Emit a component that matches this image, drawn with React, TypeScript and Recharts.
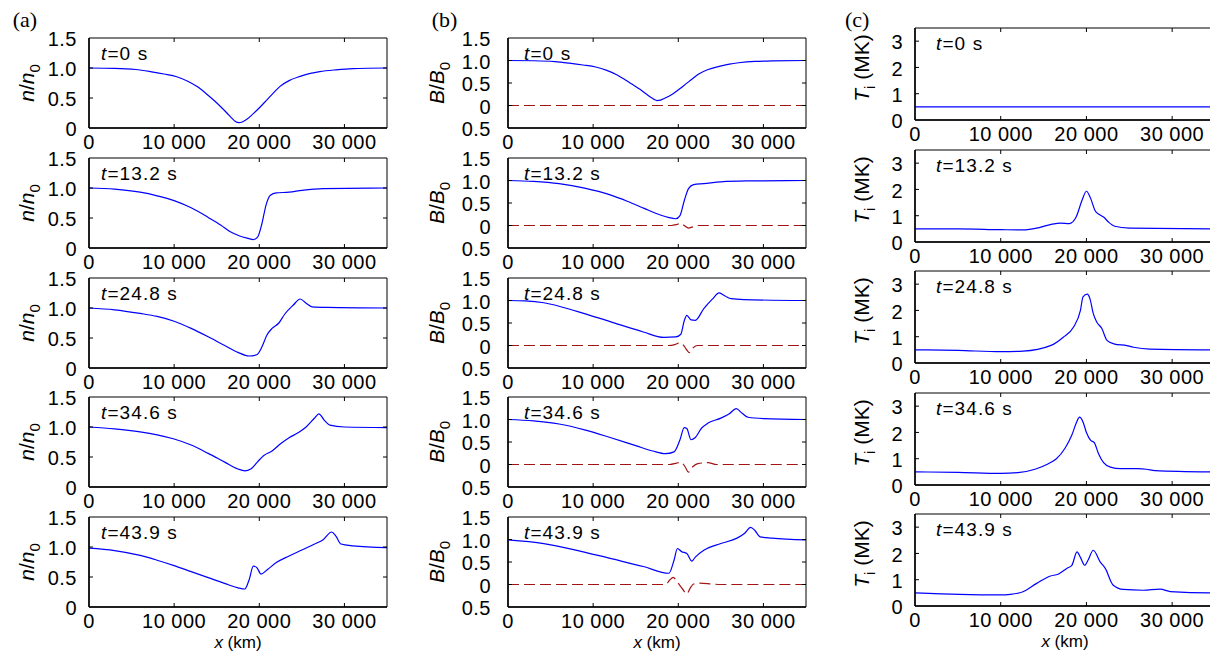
import React from 'react';
import { LineChart, Line, XAxis, YAxis, ReferenceArea } from 'recharts';

type Pt = [number, number];

const FONT = '"Liberation Sans", Arial, Helvetica, sans-serif';
const SERIF = '"Liberation Serif", "Times New Roman", serif';

const xTicks = [0, 10000, 20000, 30000];
const nTicks = [0, 0.5, 1, 1.5];
const bTicks = [-0.5, 0, 0.5, 1, 1.5];
const tiTicks = [0, 1, 2, 3];
const times = ['0', '13.2', '24.8', '34.6', '43.9'];

// (a) density n/n0, [x km, value]
const n0: Pt[] = [[0, 1.0], [3000, 0.995], [5500, 0.975], [7200, 0.94], [8800, 0.9], [10300, 0.855], [11600, 0.78], [12700, 0.69], [13700, 0.58], [14600, 0.47], [15500, 0.35], [16200, 0.25], [16800, 0.16], [17200, 0.11], [17600, 0.09], [18000, 0.1], [18500, 0.14], [19300, 0.24], [20100, 0.35], [20900, 0.47], [21700, 0.59], [22400, 0.69], [23500, 0.79], [24800, 0.86], [26000, 0.91], [27100, 0.94], [29000, 0.97], [31000, 0.99], [35000, 1.0]];
const n1: Pt[] = [[0, 1.0], [3000, 0.98], [6000, 0.93], [8000, 0.87], [10000, 0.79], [12000, 0.67], [14000, 0.51], [15500, 0.38], [16600, 0.27], [17700, 0.2], [18700, 0.16], [19300, 0.14], [19800, 0.18], [20300, 0.4], [20800, 0.72], [21300, 0.88], [22000, 0.92], [23500, 0.93], [25000, 0.96], [27500, 0.99], [35000, 1.0]];
const n2: Pt[] = [[0, 1.0], [3000, 0.97], [6000, 0.91], [8000, 0.86], [10000, 0.78], [12000, 0.66], [14000, 0.52], [16000, 0.37], [17500, 0.26], [18800, 0.2], [19700, 0.22], [20300, 0.35], [20900, 0.55], [21500, 0.66], [22300, 0.75], [23000, 0.9], [24000, 1.05], [24800, 1.15], [25500, 1.08], [26200, 1.02], [28000, 1.01], [35000, 1.0]];
const n3: Pt[] = [[0, 1.0], [3000, 0.97], [6000, 0.92], [8000, 0.87], [10000, 0.8], [12000, 0.7], [14000, 0.56], [16000, 0.41], [17500, 0.3], [18300, 0.27], [19000, 0.3], [19800, 0.42], [20500, 0.52], [21500, 0.6], [22500, 0.72], [23500, 0.82], [24500, 0.9], [25500, 1.0], [26500, 1.15], [27000, 1.22], [27600, 1.12], [28300, 1.03], [30000, 1.0], [35000, 0.99]];
const n4: Pt[] = [[0, 0.98], [3000, 0.94], [6000, 0.86], [8000, 0.78], [10000, 0.69], [12000, 0.59], [14000, 0.49], [16000, 0.39], [17500, 0.32], [18300, 0.3], [18800, 0.45], [19300, 0.68], [19700, 0.66], [20200, 0.55], [21000, 0.63], [22000, 0.74], [23500, 0.85], [25000, 0.95], [26500, 1.05], [27500, 1.12], [28500, 1.25], [29000, 1.18], [29600, 1.05], [31000, 1.02], [35000, 0.99]];

// (b) B/B0 (solid) and the transverse component (dashed)
const b0: Pt[] = [[0, 1.0], [3000, 0.995], [5500, 0.975], [7200, 0.94], [8800, 0.9], [10300, 0.855], [11600, 0.78], [12700, 0.69], [13700, 0.58], [14600, 0.47], [15500, 0.36], [16200, 0.26], [16800, 0.18], [17200, 0.13], [17500, 0.11], [17900, 0.12], [18400, 0.16], [19300, 0.25], [20100, 0.36], [20900, 0.48], [21700, 0.6], [22400, 0.7], [23500, 0.8], [24800, 0.87], [26000, 0.92], [27100, 0.95], [29000, 0.98], [31000, 0.99], [35000, 1.0]];
const b1: Pt[] = [[0, 1.0], [3000, 0.98], [6000, 0.93], [9000, 0.83], [12000, 0.68], [14000, 0.54], [16000, 0.38], [17500, 0.26], [18800, 0.18], [19700, 0.15], [20200, 0.22], [20700, 0.55], [21200, 0.82], [21800, 0.91], [23000, 0.93], [25000, 0.97], [28000, 0.99], [35000, 1.0]];
const b2: Pt[] = [[0, 1.0], [2000, 0.99], [4200, 0.95], [8100, 0.76], [12000, 0.53], [15900, 0.3], [18300, 0.18], [19700, 0.19], [20300, 0.25], [20700, 0.55], [21000, 0.67], [21500, 0.57], [22000, 0.56], [23000, 0.82], [24000, 1.03], [24800, 1.17], [25500, 1.1], [26200, 1.04], [27700, 1.02], [35000, 1.0]];
const b3: Pt[] = [[0, 1.0], [3000, 0.97], [6000, 0.9], [9000, 0.77], [12000, 0.6], [15000, 0.42], [17000, 0.3], [18500, 0.24], [19500, 0.28], [20200, 0.55], [20700, 0.82], [21000, 0.8], [21500, 0.55], [22000, 0.6], [22700, 0.8], [23500, 0.92], [25000, 1.03], [26000, 1.13], [26800, 1.24], [27500, 1.14], [28200, 1.05], [30000, 1.02], [35000, 1.0]];
const b4: Pt[] = [[0, 0.99], [4200, 0.91], [8100, 0.76], [12000, 0.58], [15900, 0.4], [18900, 0.25], [19500, 0.54], [19900, 0.8], [20400, 0.73], [21000, 0.69], [21600, 0.52], [22000, 0.61], [23000, 0.76], [25000, 0.91], [26900, 1.03], [27800, 1.14], [28500, 1.27], [29000, 1.2], [29600, 1.06], [31000, 1.03], [35000, 0.99]];
const bz0: Pt[] = [[0, 0], [35000, 0]];
const bz1: Pt[] = [[0, 0], [19200, 0], [19800, 0.02], [20300, 0.05], [20700, 0], [21200, -0.06], [21700, -0.03], [22300, 0], [35000, 0]];
const bz2: Pt[] = [[0, 0], [18800, 0], [19600, 0.02], [20200, 0.06], [20600, 0.01], [21000, -0.1], [21300, -0.16], [21700, -0.06], [22200, 0], [35000, 0]];
const bz3: Pt[] = [[0, 0], [19000, 0], [19800, 0.03], [20300, 0.05], [20800, -0.05], [21200, -0.17], [21700, -0.05], [22300, 0.02], [23500, 0.04], [24500, 0], [35000, 0]];
const bz4: Pt[] = [[0, 0], [18500, 0], [19000, 0.1], [19400, 0.16], [19900, 0.05], [20500, -0.1], [21000, -0.21], [21400, -0.08], [21800, 0.01], [22500, 0.03], [24000, 0.01], [25000, 0], [35000, 0]];

// (c) ion temperature Ti (MK)
const ti0: Pt[] = [[0, 0.5], [35000, 0.5]];
const ti1: Pt[] = [[0, 0.5], [5000, 0.5], [10000, 0.47], [12500, 0.46], [14500, 0.55], [16000, 0.68], [17000, 0.72], [18000, 0.7], [18800, 0.95], [19500, 1.6], [20000, 1.93], [20500, 1.65], [21000, 1.2], [21500, 1.05], [22000, 0.95], [22600, 0.75], [23300, 0.6], [25000, 0.53], [35000, 0.5]];
const ti2: Pt[] = [[0, 0.5], [5000, 0.48], [10000, 0.43], [12600, 0.45], [15800, 0.66], [17300, 0.98], [18500, 1.37], [19300, 2.0], [19600, 2.52], [20100, 2.62], [20400, 2.46], [20800, 1.88], [21200, 1.56], [21800, 1.31], [22400, 0.86], [23200, 0.73], [24700, 0.66], [25500, 0.6], [27400, 0.53], [35000, 0.5]];
const ti3: Pt[] = [[0, 0.5], [5000, 0.48], [10000, 0.44], [12000, 0.47], [14000, 0.6], [15500, 0.8], [16500, 1.0], [17500, 1.4], [18300, 1.9], [18800, 2.35], [19200, 2.58], [19600, 2.4], [20000, 2.0], [20500, 1.7], [20900, 1.62], [21400, 1.2], [22000, 0.85], [22800, 0.68], [24000, 0.62], [26000, 0.62], [27000, 0.6], [28000, 0.55], [35000, 0.5]];
const ti4: Pt[] = [[0, 0.5], [5200, 0.44], [10000, 0.42], [11100, 0.44], [12600, 0.54], [14200, 0.86], [15800, 1.14], [16700, 1.21], [17700, 1.43], [18300, 1.55], [18900, 2.06], [19300, 1.85], [19800, 1.55], [20200, 1.75], [20800, 2.12], [21600, 1.68], [22200, 1.43], [23100, 0.8], [24300, 0.63], [26600, 0.6], [28600, 0.64], [29800, 0.55], [34400, 0.5], [35000, 0.5]];

const nRows = [n0, n1, n2, n3, n4];
const bRows = [b0, b1, b2, b3, b4];
const bzRows = [bz0, bz1, bz2, bz3, bz4];
const tiRows = [ti0, ti1, ti2, ti3, ti4];

const kmFmt = (v: number) => String(v).replace(/\B(?=(\d{3})+(?!\d))/g, ' ');
const nFmt = (v: number) => (v === 0 ? '0' : v.toFixed(1));
const bFmt = (v: number) => (v === 0 ? '0' : Math.abs(v).toFixed(1));
const tiFmt = (v: number) => String(v);

const toRows = (pts: Pt[]) => pts.map(([x, y]) => ({ x, y }));

function XTick(props: any) {
  const { x, y, payload, h } = props;
  const v = payload.value as number;
  const inner = v > 0 && v < 35000;
  return (
    <g>
      {inner && <line x1={x} x2={x} y1={y} y2={y - 4} stroke="#000" />}
      {inner && <line x1={x} x2={x} y1={y - h} y2={y - h + 4} stroke="#000" />}
      <text x={x} y={y + 6.5} dy="0.71em" textAnchor="middle" fontSize={20} letterSpacing={0.5} fontFamily={FONT} fill="#000">
        {kmFmt(v)}
      </text>
    </g>
  );
}

function YTick(props: any) {
  const { x, y, payload, w, gap, fmt, domain } = props;
  const v = payload.value as number;
  const inner = v > domain[0] && v < domain[1];
  return (
    <g>
      {inner && <line x1={x} x2={x + 4} y1={y} y2={y} stroke="#000" />}
      {inner && <line x1={x + w} x2={x + w - 4} y1={y} y2={y} stroke="#000" />}
      <text x={x - gap} y={y + 1} dy="0.355em" textAnchor="end" fontSize={20} letterSpacing={0.5} fontFamily={FONT} fill="#000">
        {fmt(v)}
      </text>
    </g>
  );
}

type PanelProps = {
  left: number;
  top: number;
  w: number;
  h: number;
  solid: Pt[];
  dashed?: Pt[];
  domain: [number, number];
  yTicks: number[];
  yFmt: (v: number) => string;
  gap: number;
  titleX: number;
  titleDy: number;
  title: React.ReactNode;
  timeDx: number;
  time: string;
  showX: boolean;
};

const ML = 92;
const MT = 10;
const MR = 10;
const XH = 48;

function Panel(p: PanelProps) {
  return (
    <div style={{ position: 'absolute', left: p.left - ML, top: p.top - MT }}>
      <LineChart width={ML + p.w + MR} height={MT + p.h + XH} margin={{ top: MT, right: MR, left: 0, bottom: 0 }}>
        <XAxis
          type="number"
          dataKey="x"
          domain={[0, 35000]}
          ticks={xTicks}
          interval={0}
          allowDataOverflow
          height={XH}
          tickSize={0}
          tickMargin={0}
          tickLine={false}
          axisLine={{ stroke: '#000', strokeWidth: 1.5 }}
          tick={(tp: any) => <XTick {...tp} h={p.h} />}
          label={
            p.showX
              ? (lp: any) => (
                  <text
                    x={lp.viewBox.x + lp.viewBox.width / 2}
                    y={lp.viewBox.y + 40.5}
                    textAnchor="middle"
                    fontSize={17}
                    fontFamily={FONT}
                    fill="#000"
                  >
                    <tspan fontStyle="italic">x</tspan> (km)
                  </text>
                )
              : undefined
          }
        />
        <YAxis
          type="number"
          domain={p.domain}
          ticks={p.yTicks}
          interval={0}
          allowDataOverflow
          width={ML}
          tickSize={0}
          tickMargin={0}
          tickLine={false}
          axisLine={{ stroke: '#000', strokeWidth: 1.5 }}
          tick={(tp: any) => <YTick {...tp} w={p.w} gap={p.gap} fmt={p.yFmt} domain={p.domain} />}
          label={(lp: any) => {
            const cx = p.titleX;
            const cy = lp.viewBox.y + lp.viewBox.height / 2 + p.titleDy;
            return (
              <text
                x={cx}
                y={cy}
                transform={`rotate(-90 ${cx} ${cy})`}
                textAnchor="middle"
                fontSize={21}
                fontFamily={FONT}
                fill="#000"
              >
                {p.title}
              </text>
            );
          }}
        />
        <ReferenceArea
          x1={0}
          x2={35000}
          y1={p.domain[0]}
          y2={p.domain[1]}
          fill="none"
          stroke="#000"
          strokeWidth={1}
          label={(lp: any) => (
            <text x={lp.viewBox.x + p.timeDx} y={lp.viewBox.y + 21.5} fontSize={19} letterSpacing={1.1} fontFamily={FONT} fill="#000">
              <tspan fontStyle="italic">t</tspan>={p.time} s
            </text>
          )}
        />
        {p.dashed && (
          <Line
            data={toRows(p.dashed)}
            dataKey="y"
            type="monotone"
            stroke="#a31515"
            strokeWidth={1.2}
            strokeDasharray="11 5"
            dot={false}
            isAnimationActive={false}
          />
        )}
        <Line
          data={toRows(p.solid)}
          dataKey="y"
          type="monotone"
          stroke="#0000ff"
          strokeWidth={1.2}
          dot={false}
          isAnimationActive={false}
        />
      </LineChart>
    </div>
  );
}

const abTops = [38, 158, 277.5, 397, 516.5];
const cTops = [28, 149.5, 271, 392.5, 514];

const nTitle = (
  <>
    <tspan fontStyle="italic">n</tspan>/<tspan fontStyle="italic">n</tspan>
    <tspan dy={6} fontSize={15}>0</tspan>
  </>
);
const bTitle = (
  <>
    <tspan fontStyle="italic">B</tspan>/<tspan fontStyle="italic">B</tspan>
    <tspan dy={6} fontSize={15}>0</tspan>
  </>
);
const tiTitle = (
  <>
    <tspan fontStyle="italic">T</tspan>
    <tspan dy={6} fontSize={15}>i</tspan>
    <tspan dy={-6}> (MK)</tspan>
  </>
);

export default function App() {
  return (
    <div style={{ position: 'absolute', left: 0, top: 0, width: 1210, height: 651, overflow: 'hidden', background: '#fff' }}>
      <svg width={1210} height={651} style={{ position: 'absolute', left: 0, top: 0 }}>
        <text x={12.7} y={27} fontSize={22} fontFamily={SERIF} fill="#000">(a)</text>
        <text x={431.7} y={27} fontSize={22} fontFamily={SERIF} fill="#000">(b)</text>
        <text x={845} y={27} fontSize={22} fontFamily={SERIF} fill="#000">(c)</text>
      </svg>
      {times.map((t, i) => (
        <React.Fragment key={t}>
          <Panel
            left={89}
            top={abTops[i]}
            w={298}
            h={90}
            solid={nRows[i]}
            domain={[0, 1.5]}
            yTicks={nTicks}
            yFmt={nFmt}
            gap={12}
            titleX={36.5}
            titleDy={0}
            title={nTitle}
            timeDx={12}
            time={t}
            showX={i === 4}
          />
          <Panel
            left={508}
            top={abTops[i]}
            w={298}
            h={90}
            solid={bRows[i]}
            dashed={bzRows[i]}
            domain={[-0.5, 1.5]}
            yTicks={bTicks}
            yFmt={bFmt}
            gap={17}
            titleX={27.5}
            titleDy={0}
            title={bTitle}
            timeDx={16}
            time={t}
            showX={i === 4}
          />
          <Panel
            left={915}
            top={cTops[i]}
            w={300}
            h={92}
            solid={tiRows[i]}
            domain={[0, 3.5]}
            yTicks={tiTicks}
            yFmt={tiFmt}
            gap={12}
            titleX={46}
            titleDy={-6}
            title={tiTitle}
            timeDx={21}
            time={t}
            showX={i === 4}
          />
        </React.Fragment>
      ))}
    </div>
  );
}
